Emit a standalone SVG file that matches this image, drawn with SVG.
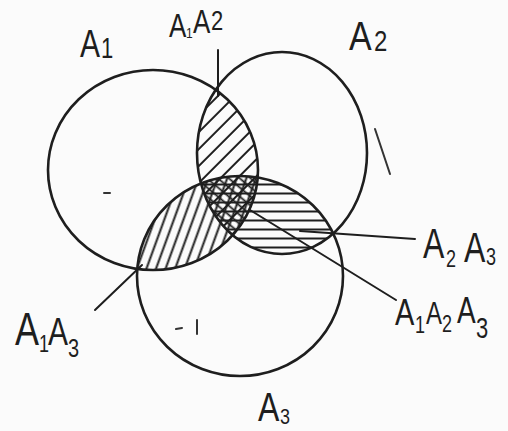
<svg xmlns="http://www.w3.org/2000/svg" width="508" height="431" viewBox="0 0 508 431">
<style>
  .set { fill: none; stroke: #1e1e1e; stroke-width: 2.6; }
  .lead { fill: none; stroke: #1e1e1e; stroke-width: 2; stroke-linecap: round; }
  .lbl { font-family: "Liberation Sans", Arial, sans-serif; fill: #1e1e1e; }
  .mark { fill: none; stroke: #333; stroke-width: 2; stroke-linecap: round; }
</style>
<defs>
  <clipPath id="cA1"><ellipse cx="153" cy="170" rx="105" ry="100"/></clipPath>
  <clipPath id="cA2"><ellipse cx="282" cy="153" rx="85" ry="101"/></clipPath>
  <clipPath id="cA3"><ellipse cx="240" cy="276" rx="103" ry="100"/></clipPath>
  <pattern id="h12" width="12" height="12" patternUnits="userSpaceOnUse" patternTransform="rotate(-45)">
    <line x1="0" y1="6" x2="12" y2="6" stroke="#1e1e1e" stroke-width="2"/>
  </pattern>
  <pattern id="h13" width="9" height="9" patternUnits="userSpaceOnUse" patternTransform="rotate(-70)">
    <line x1="0" y1="4.5" x2="9" y2="4.5" stroke="#1e1e1e" stroke-width="2"/>
  </pattern>
  <pattern id="h23" width="9" height="9" patternUnits="userSpaceOnUse">
    <line x1="0" y1="4.5" x2="9" y2="4.5" stroke="#1e1e1e" stroke-width="2"/>
  </pattern>
  <pattern id="h123" width="7" height="7" patternUnits="userSpaceOnUse" patternTransform="rotate(40)">
    <line x1="0" y1="3.5" x2="7" y2="3.5" stroke="#1e1e1e" stroke-width="1.8"/>
  </pattern>
</defs>
<rect width="508" height="431" fill="#fbfbfb"/>

<!-- hatched intersection regions -->
<g id="region-A1A2" clip-path="url(#cA1)">
  <rect x="0" y="0" width="508" height="431" fill="url(#h12)" clip-path="url(#cA2)"/>
</g>
<g id="region-A1A3" clip-path="url(#cA1)">
  <rect x="0" y="0" width="508" height="431" fill="url(#h13)" clip-path="url(#cA3)"/>
</g>
<g id="region-A2A3" clip-path="url(#cA2)">
  <rect x="0" y="0" width="508" height="431" fill="url(#h23)" clip-path="url(#cA3)"/>
</g>
<g id="region-A1A2A3" clip-path="url(#cA1)">
  <g clip-path="url(#cA2)">
    <rect x="0" y="0" width="508" height="431" fill="url(#h123)" clip-path="url(#cA3)"/>
  </g>
</g>

<!-- sets -->
<g id="A1">
  <ellipse class="set" cx="153" cy="170" rx="105" ry="100"/>
  <text class="lbl" transform="translate(80,57) scale(1,1.3)"><tspan x="0" y="0" font-size="30">A</tspan><tspan x="21" y="1" font-size="22">1</tspan></text>
</g>
<g id="A2">
  <ellipse class="set" cx="282" cy="153" rx="85" ry="101"/>
  <text class="lbl" transform="translate(349,50) scale(1,1.2)"><tspan x="0" y="0" font-size="34">A</tspan><tspan x="25" y="1" font-size="24">2</tspan></text>
</g>
<g id="A3">
  <ellipse class="set" cx="240" cy="276" rx="103" ry="100"/>
  <text class="lbl" transform="translate(258,421) scale(1,1.25)"><tspan x="0" y="0" font-size="32">A</tspan><tspan x="22" y="2.4" font-size="18">3</tspan></text>
</g>

<!-- leader lines -->
<g id="connectors">
  <line class="lead" x1="218" y1="50" x2="218" y2="96"/>
  <line class="lead" x1="142" y1="265" x2="95" y2="310"/>
  <line class="lead" x1="300" y1="231" x2="415" y2="239"/>
  <line class="lead" x1="250" y1="210" x2="396" y2="300"/>
</g>

<!-- intersection labels -->
<g id="label-A1A2">
  <text class="lbl" transform="translate(169,37) scale(1,1.25)"><tspan x="0" y="0" font-size="26">A</tspan><tspan x="17" y="1" font-size="12">1</tspan><tspan x="24" y="-3" font-size="26">A</tspan><tspan x="42" y="-6" font-size="22">2</tspan></text>
</g>
<g id="label-A1A3">
  <text class="lbl" transform="translate(15,345) scale(1,1.3)"><tspan x="0" y="0" font-size="36">A</tspan><tspan x="24" y="5.4" font-size="18">1</tspan><tspan x="33" y="0" font-size="30">A</tspan><tspan x="53" y="9.2" font-size="20">3</tspan></text>
</g>
<g id="label-A2A3">
  <text class="lbl" transform="translate(423,258) scale(1,1.3)"><tspan x="0" y="0" font-size="32">A</tspan><tspan x="23" y="7" font-size="18">2</tspan><tspan x="41" y="3" font-size="32">A</tspan><tspan x="63" y="5.4" font-size="18">3</tspan></text>
</g>
<g id="label-A1A2A3">
  <text class="lbl" transform="translate(395,325) scale(1,1.3)"><tspan x="0" y="0" font-size="29">A</tspan><tspan x="20" y="6" font-size="18">1</tspan><tspan x="31" y="-1" font-size="24">A</tspan><tspan x="47" y="5.4" font-size="18">2</tspan><tspan x="62" y="-1.5" font-size="28">A</tspan><tspan x="81" y="10" font-size="22">3</tspan></text>
</g>

<!-- stray pen marks from the scan -->
<g id="marks">
  <line class="mark" x1="375" y1="129" x2="390" y2="174"/>
  <line class="mark" x1="104" y1="193" x2="110" y2="193" stroke-width="3"/>
  <line class="mark" x1="197" y1="320" x2="197" y2="334"/>
  <line class="mark" x1="176" y1="329" x2="182" y2="328" stroke-width="1.5"/>
</g>
</svg>
